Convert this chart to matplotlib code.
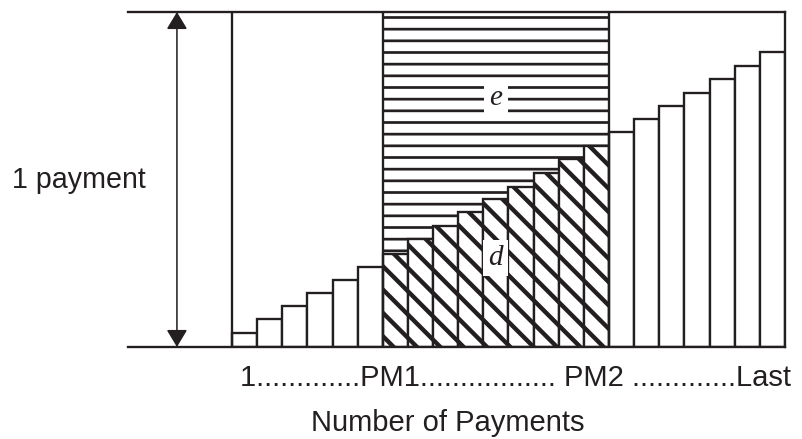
import numpy as np
import matplotlib
matplotlib.use("Agg")
import matplotlib as mpl
import matplotlib.pyplot as plt

# bar heights, as a fraction of one payment
early_heights = [0.042, 0.084, 0.122, 0.161, 0.200, 0.239]
middle_heights = [0.278, 0.322, 0.361, 0.403, 0.442, 0.478, 0.519, 0.561, 0.600]
late_heights = [0.642, 0.681, 0.719, 0.758, 0.800, 0.839, 0.881]

x_tick_text = "1.............PM1................. PM2 .............Last"
x_title = "Number of Payments"
y_text = "1 payment"
interest_label = "e"
principal_label = "d"

DPI = 70  # hatch spacing follows dpi, 70 gives the spacing of the original
W, H = 802, 439
INK = "#231f20"


def hatched(artist, lw):
    # per-artist hatch width if this matplotlib has it
    if hasattr(artist, "set_hatch_linewidth"):
        artist.set_hatch_linewidth(lw)


def main():
    plt.rcParams["font.family"] = ["Liberation Sans", "DejaVu Sans"]
    fig = plt.figure(figsize=(W / DPI, H / DPI), dpi=DPI)
    ax = fig.add_axes([128 / W, 92 / H, (785 - 128) / W, 335 / H])

    n1 = len(early_heights)
    n2 = len(middle_heights)
    n3 = len(late_heights)
    x1 = np.arange(n1)
    x2 = np.arange(n1, n1 + n2)
    x3 = np.arange(n1 + n2, n1 + n2 + n3)

    # interest area above the middle bars, horizontal lines
    edges = np.arange(n1, n1 + n2 + 1)
    tops = np.append(middle_heights, middle_heights[-1])
    with mpl.rc_context({"hatch.linewidth": 2.8}):
        top_fill = ax.fill_between(edges, tops, 1, step="post", facecolor="white",
                                   edgecolor=INK, hatch="-", linewidth=0)
    hatched(top_fill, 2.8)

    lw = 2.4
    ax.bar(x1, early_heights, width=1, align="edge", color="white",
           edgecolor=INK, linewidth=lw)
    with mpl.rc_context({"hatch.linewidth": 4.5}):
        mid = ax.bar(x2, middle_heights, width=1, align="edge", color="white",
                     edgecolor=INK, linewidth=lw, hatch="\\")
    for p in mid:
        hatched(p, 4.5)
    ax.bar(x3, late_heights, width=1, align="edge", color="white",
           edgecolor=INK, linewidth=lw)

    # region borders
    for xv in [0, n1, n1 + n2]:
        ax.axvline(xv, color=INK, linewidth=lw)

    ax.set_xlim(-104 / 25.14, n1 + n2 + n3)
    ax.set_ylim(0, 1)
    ax.set_xticks([])
    ax.set_yticks([])
    ax.spines["left"].set_visible(False)
    for s in ["top", "bottom", "right"]:
        ax.spines[s].set_linewidth(lw)
        ax.spines[s].set_color(INK)

    # double arrow for one payment
    ax.annotate("", xy=(-2.19, 1), xytext=(-2.19, 0),
                arrowprops=dict(arrowstyle="<|-|>,head_length=0.4,head_width=0.24",
                                mutation_scale=38, color=INK, lw=1.6,
                                shrinkA=0, shrinkB=0))

    box = dict(boxstyle="square,pad=0.18", facecolor="white", edgecolor="none")
    mid_x = n1 + n2 / 2
    ax.text(mid_x, 0.743, interest_label, ha="center", va="center",
            family="Liberation Serif", style="italic", fontsize=30, bbox=box,
            color=INK)
    ax.text(mid_x, 0.266, principal_label, ha="center", va="center",
            family="Liberation Serif", style="italic", fontsize=30, bbox=box,
            color=INK)

    fig.text(12 / W, (H - 188) / H, y_text, ha="left", va="baseline",
             fontsize=29.5, color=INK)
    fig.text(240 / W, (H - 386) / H, x_tick_text, ha="left", va="baseline",
             fontsize=30, color=INK)
    fig.text(448 / W, (H - 431) / H, x_title, ha="center", va="baseline",
             fontsize=30, color=INK)

    fig.savefig("out.png", dpi=DPI)
    print("Plot complete")


if __name__ == "__main__":
    main()
